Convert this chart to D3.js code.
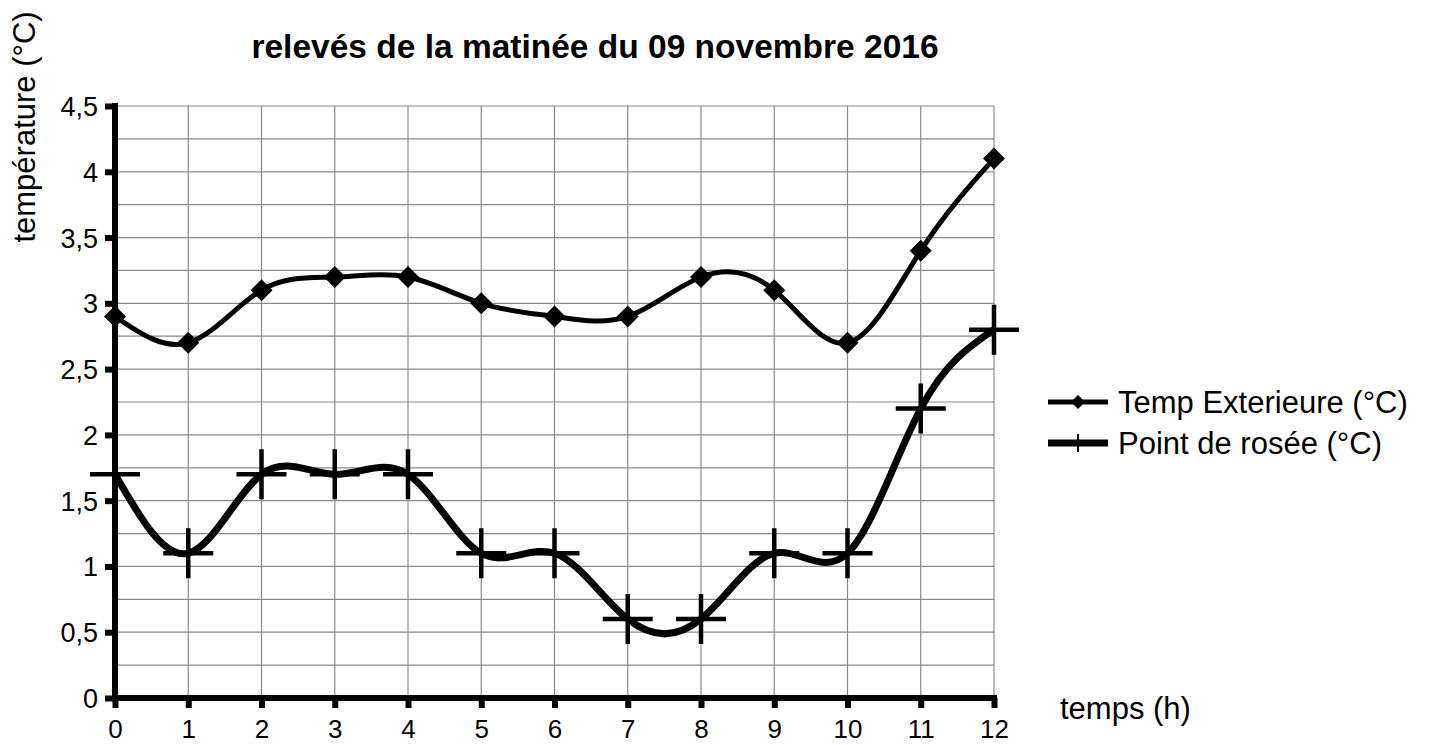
<!DOCTYPE html>
<html>
<head>
<meta charset="utf-8">
<script src="https://cdn.jsdelivr.net/npm/d3@7"></script>
<style>
  body { margin: 0; background: #fff; }
  text { font-family: "Liberation Sans", Arial, sans-serif; fill: #000; }
</style>
</head>
<body>
<svg id="chart"></svg>
<script>
// relevés du 09 novembre 2016
var hours = [0, 1, 2, 3, 4, 5, 6, 7, 8, 9, 10, 11, 12];
var tempExt = [2.9, 2.7, 3.1, 3.2, 3.2, 3.0, 2.9, 2.9, 3.2, 3.1, 2.7, 3.4, 4.1];
var dewPoint = [1.7, 1.1, 1.7, 1.7, 1.7, 1.1, 1.1, 0.6, 0.6, 1.1, 1.1, 2.2, 2.8];
var yTicks = [0, 0.5, 1, 1.5, 2, 2.5, 3, 3.5, 4, 4.5];
var yGrid = d3.range(1, 19).map(function(i) { return i * 0.25; });
var seriesNames = ["Temp Exterieure (°C)", "Point de rosée (°C)"];

var width = 1430, height = 745;

var chart = d3.select('#chart')
    .attr('width', width)
    .attr('height', height);

var x = d3.scaleLinear().domain([0, 12]).range([115, 994]);
var y = d3.scaleLinear().domain([0, 4.5]).range([698, 106]);

var fmt = function(d) { return String(d).replace('.', ','); };

// grid
var grid = chart.append('g').attr('id', 'grid');
grid.selectAll('.hgrid')
    .data(yGrid)
    .enter().append('line')
    .attr('x1', x(0)).attr('x2', x(12))
    .attr('y1', function(d) { return y(d); })
    .attr('y2', function(d) { return y(d); })
    .attr('stroke', '#8a8a8a').attr('stroke-width', 1.2);
grid.selectAll('.vgrid')
    .data(hours.slice(1))
    .enter().append('line')
    .attr('x1', function(d) { return x(d); })
    .attr('x2', function(d) { return x(d); })
    .attr('y1', y(0)).attr('y2', y(4.5))
    .attr('stroke', '#8a8a8a').attr('stroke-width', 1.2);

// axes
var yAxis = chart.append('g')
    .attr('transform', 'translate(' + x(0) + ',0)')
    .call(d3.axisLeft(y).tickValues(yTicks).tickFormat(fmt).tickSizeInner(10).tickSizeOuter(0).tickPadding(7));
yAxis.select('.domain').attr('stroke-width', 6).attr('d', 'M0,' + (y(4.5) - 3) + 'V' + (y(0) + 3));
yAxis.selectAll('.tick line').attr('stroke-width', 6);
yAxis.selectAll('.tick text').style('font-size', '27px').attr('dy', '0.35em');

var xAxis = chart.append('g')
    .attr('transform', 'translate(0,' + y(0) + ')')
    .call(d3.axisBottom(x).tickValues(hours).tickFormat(d3.format('d')).tickSizeInner(10).tickSizeOuter(0).tickPadding(12));
xAxis.select('.domain').attr('stroke-width', 6).attr('d', 'M' + (x(0) - 3) + ',0H' + (x(12) + 3));
xAxis.selectAll('.tick line').attr('stroke-width', 6);
xAxis.selectAll('.tick text').style('font-size', '26px');

// lines
var lineTemp = d3.line()
    .x(function(d, i) { return x(hours[i]); })
    .y(function(d) { return y(d); })
    .curve(d3.curveNatural);

chart.append('path')
    .datum(dewPoint)
    .attr('d', lineTemp)
    .attr('fill', 'none').attr('stroke', '#000').attr('stroke-width', 7);

chart.append('path')
    .datum(tempExt)
    .attr('d', lineTemp)
    .attr('fill', 'none').attr('stroke', '#000').attr('stroke-width', 5);

// markers
chart.selectAll('.diamond')
    .data(tempExt)
    .enter().append('path')
    .attr('d', 'M0,-11L11,0L0,11L-11,0Z')
    .attr('transform', function(d, i) { return 'translate(' + x(hours[i]) + ',' + y(d) + ')'; })
    .attr('fill', '#000');

chart.selectAll('.plus')
    .data(dewPoint)
    .enter().append('path')
    .attr('d', 'M-25,0H25M0,-25V25')
    .attr('transform', function(d, i) { return 'translate(' + x(hours[i]) + ',' + y(d) + ')'; })
    .attr('stroke', '#000').attr('stroke-width', 4.5).attr('fill', 'none');

// title and axis labels
chart.append('text')
    .attr('x', 595).attr('y', 58)
    .attr('text-anchor', 'middle')
    .style('font-size', '33.5px').style('font-weight', 'bold')
    .text('relevés de la matinée du 09 novembre 2016');

chart.append('text')
    .attr('transform', 'translate(35,127) rotate(-90)')
    .attr('text-anchor', 'middle')
    .style('font-size', '31px')
    .text('température (°C)');

chart.append('text')
    .attr('x', 1060).attr('y', 719)
    .style('font-size', '31px')
    .text('temps (h)');

// legend
var legend = chart.append('g').attr('transform', 'translate(1048,402)');
legend.append('line').attr('x1', 0).attr('x2', 60).attr('y1', 0).attr('y2', 0)
    .attr('stroke', '#000').attr('stroke-width', 5);
legend.append('path').attr('d', 'M30,-7L37,0L30,7L23,0Z').attr('fill', '#000');
legend.append('text').attr('x', 70).attr('y', 0).attr('dy', '0.35em')
    .style('font-size', '31px').text(seriesNames[0]);

legend.append('line').attr('x1', 0).attr('x2', 60).attr('y1', 41).attr('y2', 41)
    .attr('stroke', '#000').attr('stroke-width', 7);
legend.append('line').attr('x1', 30).attr('x2', 30).attr('y1', 32).attr('y2', 50)
    .attr('stroke', '#000').attr('stroke-width', 2);
legend.append('text').attr('x', 70).attr('y', 41).attr('dy', '0.35em')
    .style('font-size', '31px').text(seriesNames[1]);
</script>
</body>
</html>
